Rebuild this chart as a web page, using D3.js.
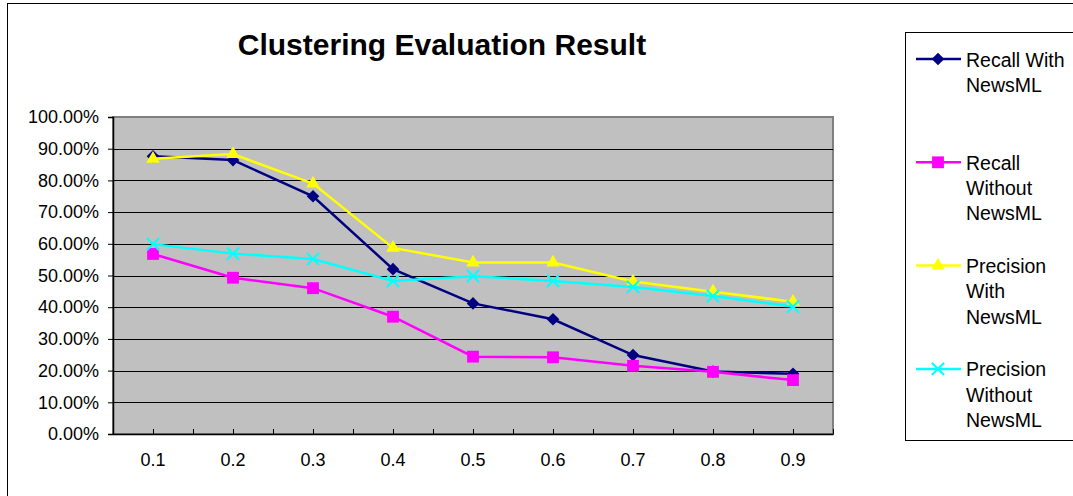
<!DOCTYPE html>
<html>
<head>
<meta charset="utf-8">
<script src="https://cdn.jsdelivr.net/npm/d3@7"></script>
<style>
  body { margin: 0; background: #fff; }
  text { font-family: "Liberation Sans", Arial, sans-serif; }
</style>
</head>
<body>
<svg id="chart" width="1073" height="496"></svg>
<script>
// data
const categories = ["0.1", "0.2", "0.3", "0.4", "0.5", "0.6", "0.7", "0.8", "0.9"];
const recallWith = [87.6, 86.4, 75.0, 52.0, 41.2, 36.2, 24.9, 19.7, 19.0];
const recallWithout = [56.8, 49.3, 46.0, 37.0, 24.4, 24.2, 21.5, 19.6, 17.0];
const precisionWith = [86.8, 88.3, 79.0, 58.7, 54.1, 54.1, 48.1, 44.9, 41.7];
const precisionWithout = [59.9, 56.9, 55.2, 48.3, 49.8, 48.3, 46.4, 43.5, 40.2];
const yTicks = [0, 10, 20, 30, 40, 50, 60, 70, 80, 90, 100];
const seriesNames = ["Recall With NewsML", "Recall Without NewsML", "Precision With NewsML", "Precision Without NewsML"];
const legendLines = [["Recall With", "NewsML"], ["Recall", "Without", "NewsML"], ["Precision", "With", "NewsML"], ["Precision", "Without", "NewsML"]];

const series = [
  { name: seriesNames[0], values: recallWith, color: "#000080", marker: "diamond" },
  { name: seriesNames[1], values: recallWithout, color: "#FF00FF", marker: "square" },
  { name: seriesNames[2], values: precisionWith, color: "#FFFF00", marker: "triangle" },
  { name: seriesNames[3], values: precisionWithout, color: "#00FFFF", marker: "x" }
];

const svg = d3.select("#chart");

// outer chart frame
svg.append("rect")
  .attr("x", 7.5).attr("y", 3.5)
  .attr("width", 1100).attr("height", 520)
  .attr("fill", "#fff")
  .attr("stroke", "#000")
  .attr("stroke-width", 1);

svg.append("text")
  .attr("x", 442)
  .attr("y", 55)
  .attr("text-anchor", "middle")
  .attr("font-size", "30px")
  .attr("font-weight", "bold")
  .text("Clustering Evaluation Result");

const margin = { top: 117, left: 113 };
const width = 720;
const height = 317;

const x = d3.scaleBand().domain(categories).range([0, width]);
const xEdges = d3.scaleLinear().domain([0, categories.length]).range([0, width]);
const y = d3.scaleLinear().domain([0, 100]).range([height, 0]);

const g = svg.append("g")
  .attr("transform", `translate(${margin.left},${margin.top})`);

g.append("rect")
  .attr("width", width)
  .attr("height", height)
  .attr("fill", "#C0C0C0")
  .attr("stroke", "#808080")
  .attr("stroke-width", 2);

// gridlines
g.selectAll(".grid")
  .data(yTicks.filter(function (d) { return d > 0 && d < 100; }))
  .enter().append("line")
  .attr("class", "grid")
  .attr("x1", 0).attr("x2", width)
  .attr("y1", function (d) { return Math.round(y(d)) + 0.5; })
  .attr("y2", function (d) { return Math.round(y(d)) + 0.5; })
  .attr("stroke", "#000")
  .attr("stroke-width", 1);

// y axis
const yAxis = g.append("g")
  .call(d3.axisLeft(y).tickValues(yTicks).tickSize(5).tickPadding(9)
    .tickFormat(function (d) { return (d).toFixed(2) + "%"; }));
yAxis.select(".domain").attr("stroke", "#000").attr("stroke-width", 1.5);
yAxis.selectAll("text").attr("font-size", "18px").attr("fill", "#000")
  .style("font-family", "'Liberation Sans', Arial, sans-serif");

// x axis: tick marks every half band, pointing up
const xTickAxis = g.append("g")
  .attr("transform", `translate(0,${height})`)
  .call(d3.axisBottom(xEdges).tickValues(d3.range(0, categories.length * 2 + 1).map(function (i) { return i / 2; }))
    .tickSize(-5).tickSizeOuter(0).tickFormat(""));
xTickAxis.select(".domain").attr("stroke", "#000").attr("stroke-width", 1.5);

const xAxis = g.append("g")
  .attr("transform", `translate(0,${height})`)
  .call(d3.axisBottom(x).tickSize(0).tickPadding(19));
xAxis.select(".domain").remove();
xAxis.selectAll("text").attr("font-size", "18px").attr("fill", "#000")
  .style("font-family", "'Liberation Sans', Arial, sans-serif");

function drawMarker(sel, s) {
  if (s.marker === "diamond") {
    sel.append("path")
      .attr("d", d3.symbol().type(d3.symbolSquare).size(80)())
      .attr("transform", "rotate(45)")
      .attr("fill", s.color);
  } else if (s.marker === "square") {
    sel.append("path").attr("d", d3.symbol().type(d3.symbolSquare).size(140)()).attr("fill", s.color);
  } else if (s.marker === "triangle") {
    sel.append("path").attr("d", d3.symbol().type(d3.symbolTriangle).size(80)()).attr("fill", s.color);
  } else {
    sel.append("path").attr("d", d3.symbol().type(d3.symbolTimes).size(100)())
      .attr("fill", "none").attr("stroke", s.color).attr("stroke-width", 2);
  }
}

const line = d3.line()
  .x(function (d, i) { return x(categories[i]) + x.bandwidth() / 2; })
  .y(function (d) { return y(d); });

series.forEach(function (s) {
  g.append("path")
    .datum(s.values)
    .attr("fill", "none")
    .attr("stroke", s.color)
    .attr("stroke-width", 2.5)
    .attr("d", line);

  s.values.forEach(function (v, i) {
    const m = g.append("g")
      .attr("transform", `translate(${x(categories[i]) + x.bandwidth() / 2},${y(v)})`);
    drawMarker(m, s);
  });
});

// legend
const legend = svg.append("g");
legend.append("rect")
  .attr("x", 905.5).attr("y", 32.5)
  .attr("width", 200).attr("height", 408)
  .attr("fill", "#fff")
  .attr("stroke", "#000")
  .attr("stroke-width", 1);

series.forEach(function (s, i) {
  const ly = 59 + i * 103.3;
  const item = legend.append("g");
  item.append("line")
    .attr("x1", 916).attr("x2", 961)
    .attr("y1", ly).attr("y2", ly)
    .attr("stroke", s.color)
    .attr("stroke-width", 2.5);
  const m = item.append("g").attr("transform", `translate(938,${ly})`);
  drawMarker(m, s);
  item.selectAll("text")
    .data(legendLines[i])
    .enter().append("text")
    .attr("x", 966)
    .attr("y", function (d, j) { return ly + 7.5 + j * 25.3; })
    .attr("font-size", "19.5px")
    .attr("fill", "#000")
    .text(function (d) { return d; });
});
</script>
</body>
</html>
